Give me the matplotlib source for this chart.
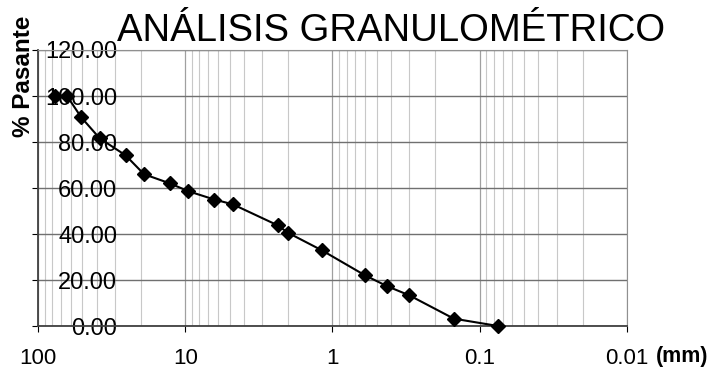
import matplotlib
matplotlib.use("Agg")
import matplotlib.pyplot as plt
from matplotlib.ticker import FixedLocator, LogLocator, NullFormatter

# sieve opening (mm) and percent passing
sieve_mm = [76.2, 63.5, 50.8, 38.1, 25.4, 19.05, 12.7, 9.525, 6.35, 4.75,
            2.36, 2.0, 1.18, 0.6, 0.425, 0.3, 0.15, 0.075]
passing = [100.0, 100.0, 90.7, 81.6, 74.2, 66.0, 62.0, 58.6, 55.0, 52.9,
           43.8, 40.5, 32.9, 22.0, 17.3, 13.3, 3.2, 0.0]

x_ticks = [100, 10, 1, 0.1, 0.01]
x_labels = ["100", "10", "1", "0.1", "0.01"]
y_ticks = [0, 20, 40, 60, 80, 100, 120]

plt.rcParams["font.family"] = ["Liberation Sans", "DejaVu Sans"]

fig = plt.figure(figsize=(7.22, 3.69), dpi=100)
ax = fig.add_axes([0.0526, 0.1165, 0.8158, 0.748])

ax.set_xscale("log")
ax.set_xlim(100, 0.01)
ax.set_ylim(0, 120)

ax.xaxis.set_major_locator(FixedLocator(x_ticks))
ax.set_xticklabels(x_labels, fontsize=16)
ax.xaxis.set_minor_locator(LogLocator(base=10, subs=range(2, 10)))
ax.xaxis.set_minor_formatter(NullFormatter())
ax.set_yticks(y_ticks)
ax.set_yticklabels([f"{v:.2f}" for v in y_ticks], fontsize=17)

ax.grid(True, which="major", axis="y", color="#707070", linewidth=1.0)
ax.grid(True, which="major", axis="x", color="#a0a0a0", linewidth=0.9)
ax.grid(True, which="minor", axis="x", color="#c8c8c8", linewidth=0.8)
ax.set_axisbelow(True)

ax.tick_params(axis="y", which="major", direction="out", length=4, pad=-61)
ax.tick_params(axis="x", which="major", direction="out", length=4, pad=12)
ax.tick_params(axis="x", which="minor", length=0)
for side in ["top", "right"]:
    ax.spines[side].set_color("#909090")
for side in ["left", "bottom"]:
    ax.spines[side].set_color("#404040")
    ax.spines[side].set_linewidth(1.3)

ax.plot(sieve_mm, passing, color="black", linewidth=1.5, marker="D",
        markersize=7.5, markerfacecolor="black", markeredgecolor="black",
        zorder=5, clip_on=False)

fig.text(0.541, 0.915, "ANÁLISIS GRANULOMÉTRICO", fontsize=27.5,
         ha="center", va="center")
fig.text(0.032, 0.794, "% Pasante", fontsize=17.5, fontweight="bold",
         rotation=90, ha="center", va="center")
fig.text(0.945, 0.033, "(mm)", fontsize=15.5, fontweight="bold",
         ha="center", va="center")

fig.savefig("out.png", dpi=100)
